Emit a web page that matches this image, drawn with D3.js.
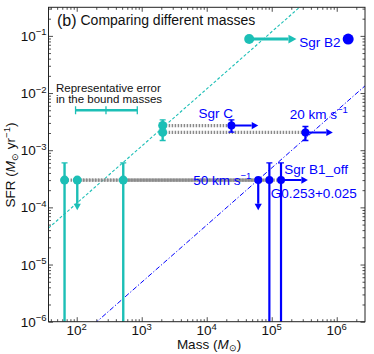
<!DOCTYPE html>
<html>
<head>
<meta charset="utf-8">
<script src="https://cdn.jsdelivr.net/npm/d3@7"></script>
<style>
  body { margin: 0; background: #fff; }
  text { font-family: "Liberation Sans", Arial, Helvetica, sans-serif; }
</style>
</head>
<body>
<div id="chart"></div>
<script>
// clouds, bound mass (cyan) vs total mass (blue)
const clouds = ["50 km s", "Sgr B1_off", "G0.253+0.025", "Sgr C", "20 km s", "Sgr B2"];
const cloudSup = ["\u22121", "", "", "", "\u22121", ""];
const boundMass = [102, 65, 520, 2100, 2100, 45000];
const totalMass = [62000, 92000, 139000, 24000, 330000, 1500000];
const sfr = [3.0e-4, 3.0e-4, 3.0e-4, 2.7e-3, 2.05e-3, 8.8e-2];
const sfrLow = [null, 1e-9, 1e-9, 2.07e-3, 1.48e-3, null];
const sfrHigh = [null, 6.0e-4, 6.0e-4, 3.4e-3, 2.6e-3, null];
const sfrLimit = [8.9e-5, null, null, null, null, null];          // SFR upper limits (down arrows)
const boundArrowTo = [null, null, null, null, null, 2.4e5];        // lower limits on mass
const totalArrowTo = [null, null, 3.6e5, 6.2e4, 8.7e5, null];
const linked = [true, true, true, true, true, false];

// reference relations SFR = k * M
const refCoef = [1.18e-6, 4.9e-9];

// representative error in the bound masses
const repErrMass = [96, 282, 855];
const repErrSfr = 5.0e-3;

const xMajor = [1e2, 1e3, 1e4, 1e5, 1e6];
const xMajorExp = ["2", "3", "4", "5", "6"];
const yMajor = [1e-6, 1e-5, 1e-4, 1e-3, 1e-2, 1e-1];
const yMajorExp = ["\u22126", "\u22125", "\u22124", "\u22123", "\u22122", "\u22121"];

const width = 374, height = 354;
const margin = {top: 7.3, right: 9, bottom: 32.3, left: 48.5};
const cyan = "#1cbfb6", blue = "#0000ff", grey = "#8a8a8a";

const svg = d3.select("#chart").append("svg")
  .attr("width", width).attr("height", height);

const x = d3.scaleLog().domain([Math.pow(10, 1.566), Math.pow(10, 6.435)])
  .range([margin.left, width - margin.right]);
const y = d3.scaleLog().domain([1e-6, Math.pow(10, -0.5)])
  .range([height - margin.bottom, margin.top]);

const x0 = margin.left, x1 = width - margin.right;
const y0 = height - margin.bottom, y1 = margin.top;

svg.append("defs").append("clipPath").attr("id", "clip")
  .append("rect").attr("x", x0).attr("y", y1).attr("width", x1 - x0).attr("height", y0 - y1);

// ticks, inside on all four sides
const isDecade = v => Math.abs(Math.log10(v) - Math.round(Math.log10(v))) < 1e-9;
const xMinor = x.ticks().filter(v => !isDecade(v));
const yMinor = y.ticks().filter(v => !isDecade(v));

function ticks(axis, scale, vals, size, transform) {
  const g = svg.append("g").attr("transform", transform)
    .call(axis(scale).tickValues(vals).tickSize(-size).tickSizeOuter(0).tickFormat(""));
  g.select(".domain").remove();
  g.selectAll("line").attr("stroke", "#222").attr("stroke-width", 0.8);
}
ticks(d3.axisBottom, x, xMajor, 4.5, `translate(0,${y0})`);
ticks(d3.axisBottom, x, xMinor, 2.5, `translate(0,${y0})`);
ticks(d3.axisTop, x, xMajor, 4.5, `translate(0,${y1})`);
ticks(d3.axisTop, x, xMinor, 2.5, `translate(0,${y1})`);
ticks(d3.axisLeft, y, yMajor, 4.5, `translate(${x0},0)`);
ticks(d3.axisLeft, y, yMinor, 2.5, `translate(${x0},0)`);
ticks(d3.axisRight, y, yMajor, 4.5, `translate(${x1},0)`);
ticks(d3.axisRight, y, yMinor, 2.5, `translate(${x1},0)`);

// tick labels
const xl = svg.append("g").selectAll("text").data(xMajor).join("text")
  .attr("x", d => x(d)).attr("y", 335).attr("text-anchor", "middle")
  .attr("font-size", 13.5).attr("fill", "#111");
xl.append("tspan").text("10");
xl.append("tspan").attr("dy", -5.5).attr("font-size", 9.5).text((d, i) => xMajorExp[i]);

const yl = svg.append("g").selectAll("text").data(yMajor).join("text")
  .attr("x", 46.5).attr("y", d => y(d) + 5).attr("text-anchor", "end")
  .attr("font-size", 13.5).attr("fill", "#111");
yl.append("tspan").text("10");
yl.append("tspan").attr("dy", -5.5).attr("font-size", 9.5).text((d, i) => yMajorExp[i]);

// axis titles
const xt = svg.append("text").attr("x", 209).attr("y", 348.5).attr("text-anchor", "middle")
  .attr("font-size", 13.5).attr("fill", "#111");
xt.append("tspan").text("Mass (");
xt.append("tspan").attr("font-style", "italic").text("M");
xt.append("tspan").attr("font-size", 9).attr("dy", 2.5).text("\u2299");
xt.append("tspan").attr("dy", -2.5).text(")");

const yt = svg.append("text").attr("transform", "translate(15,165) rotate(-90)")
  .attr("text-anchor", "middle").attr("font-size", 13.5).attr("fill", "#111");
yt.append("tspan").text("SFR (");
yt.append("tspan").attr("font-style", "italic").text("M");
yt.append("tspan").attr("font-size", 9).attr("dy", 3).text("\u2299");
yt.append("tspan").attr("dy", -3).text(" yr");
yt.append("tspan").attr("font-size", 9.5).attr("dy", -5.5).text("\u22121");
yt.append("tspan").attr("dy", 5.5).text(")");

const plot = svg.append("g").attr("clip-path", "url(#clip)");

// reference relations
const massEnds = x.domain();
const refLine = k => d3.line().x(d => x(d)).y(d => y(k * d))(massEnds);
plot.append("path").attr("d", refLine(refCoef[0])).attr("fill", "none")
  .attr("stroke", cyan).attr("stroke-width", 1.1).attr("stroke-dasharray", "3,2");
plot.append("path").attr("d", refLine(refCoef[1])).attr("fill", "none")
  .attr("stroke", blue).attr("stroke-width", 1).attr("stroke-dasharray", "5,2,1.2,2");

const idx = d3.range(clouds.length);

// grey links bound -> total
plot.append("g").selectAll("line").data(idx.filter(i => linked[i])).join("line")
  .attr("x1", i => x(boundMass[i])).attr("x2", i => x(totalMass[i]))
  .attr("y1", i => y(sfr[i])).attr("y2", i => y(sfr[i]))
  .attr("stroke", grey).attr("stroke-width", 3.2).attr("stroke-dasharray", "1.5,1.5");

// arrow helper
function arrow(g, xa, ya, xb, yb, color, lw, head) {
  const ang = Math.atan2(yb - ya, xb - xa);
  const bx = xb - head * Math.cos(ang), by = yb - head * Math.sin(ang);
  g.append("line").attr("x1", xa).attr("y1", ya).attr("x2", bx).attr("y2", by)
    .attr("stroke", color).attr("stroke-width", lw);
  const w = head * 0.55;
  const px = -Math.sin(ang) * w, py = Math.cos(ang) * w;
  g.append("path").attr("d", `M${xb},${yb}L${bx + px},${by + py}L${bx - px},${by - py}Z`)
    .attr("fill", color);
}

function errorBars(massArr, color, lw) {
  const g = plot.append("g");
  idx.forEach(i => {
    const cx = x(massArr[i]);
    if (sfrHigh[i] !== null) {
      g.append("line").attr("x1", cx).attr("x2", cx)
        .attr("y1", y(sfrHigh[i])).attr("y2", y(sfrLow[i]))
        .attr("stroke", color).attr("stroke-width", lw);
      [sfrHigh[i], sfrLow[i]].forEach(v => {
        g.append("line").attr("x1", cx - 3).attr("x2", cx + 3)
          .attr("y1", y(v)).attr("y2", y(v)).attr("stroke", color).attr("stroke-width", 1.3);
      });
    }
    if (sfrLimit[i] !== null) {
      arrow(g, cx, y(sfr[i]), cx, y(sfrLimit[i]), color, lw, 6.5);
    }
  });
  return g;
}

const gc = errorBars(boundMass, cyan, 2.4);
idx.filter(i => boundArrowTo[i] !== null).forEach(i => {
  arrow(gc, x(boundMass[i]), y(sfr[i]), x(boundArrowTo[i]), y(sfr[i]), cyan, 3, 8);
});
const gb = errorBars(totalMass, blue, 2.2);
idx.filter(i => totalArrowTo[i] !== null).forEach(i => {
  arrow(gb, x(totalMass[i]), y(sfr[i]), x(totalArrowTo[i]), y(sfr[i]), blue, 2, 6.5);
});

// markers
plot.append("g").selectAll("circle").data(idx).join("circle")
  .attr("cx", i => x(boundMass[i])).attr("cy", i => y(sfr[i]))
  .attr("r", i => clouds[i] === "Sgr B2" ? 5 : 4.5).attr("fill", cyan);
plot.append("g").selectAll("circle").data(idx).join("circle")
  .attr("cx", i => x(totalMass[i])).attr("cy", i => y(sfr[i]))
  .attr("r", i => clouds[i] === "Sgr B2" ? 5.5 : 4).attr("fill", blue);

// cloud labels (offsets from the total-mass point, px)
const labelOffset = {
  "50 km s": [-65, 4.7], "Sgr B1_off": [15, -6], "G0.253+0.025": [-10.3, 18],
  "Sgr C": [-33, -7.7], "20 km s": [-15.7, -13.7], "Sgr B2": [-49, 8.4]
};
const lab = svg.append("g").selectAll("text").data(idx).join("text")
  .attr("x", i => x(totalMass[i]) + labelOffset[clouds[i]][0])
  .attr("y", i => y(sfr[i]) + labelOffset[clouds[i]][1])
  .attr("font-size", 13.5).attr("fill", blue);
lab.append("tspan").text(i => clouds[i]);
lab.append("tspan").attr("dy", -5.5).attr("font-size", 9.5).text(i => cloudSup[i]);

// representative error bar
const re = svg.append("g");
re.append("line").attr("x1", x(repErrMass[0])).attr("x2", x(repErrMass[2]))
  .attr("y1", y(repErrSfr)).attr("y2", y(repErrSfr)).attr("stroke", cyan).attr("stroke-width", 2.6);
re.selectAll(".cap").data(repErrMass).join("line")
  .attr("x1", d => x(d)).attr("x2", d => x(d))
  .attr("y1", y(repErrSfr) - 4).attr("y2", y(repErrSfr) + 4)
  .attr("stroke", cyan).attr("stroke-width", 1.3);
re.append("text").attr("x", 56).attr("y", 92).attr("font-size", 11.5).attr("fill", "#111")
  .text("Representative error");
re.append("text").attr("x", 56).attr("y", 103).attr("font-size", 11.5).attr("fill", "#111")
  .text("in the bound masses");

// panel title
svg.append("text").attr("x", 57).attr("y", 25.5).attr("font-size", 16).attr("fill", "#111").text("(b)");
svg.append("text").attr("x", 80.5).attr("y", 25).attr("font-size", 14).attr("fill", "#111")
  .text("Comparing different masses");

// frame
svg.append("rect").attr("x", x0).attr("y", y1).attr("width", x1 - x0).attr("height", y0 - y1)
  .attr("fill", "none").attr("stroke", "#222").attr("stroke-width", 1);
</script>
</body>
</html>
